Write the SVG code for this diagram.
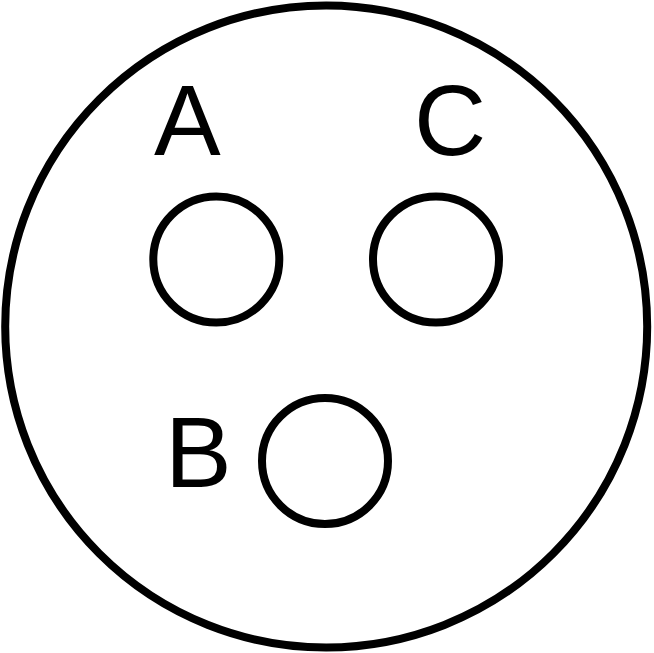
<svg xmlns="http://www.w3.org/2000/svg" width="654" height="653" viewBox="0 0 654 653">
<style>
.ring{fill:none;stroke:#000;stroke-width:8}
.lbl{font-family:"Liberation Sans",Arial,sans-serif;font-size:100px;fill:#000}
</style>
<rect width="654" height="653" fill="#fff"/>
<g id="housing"><circle class="ring" cx="326.2" cy="326.5" r="321"/></g>
<g id="pin-A">
<circle class="ring" cx="216.3" cy="259.5" r="63"/>
<text class="lbl" x="154" y="155">A</text>
</g>
<g id="pin-C">
<circle class="ring" cx="436" cy="259.5" r="63"/>
<text class="lbl" x="414" y="155">C</text>
</g>
<g id="pin-B">
<circle class="ring" cx="325" cy="461" r="63"/>
<text class="lbl" x="165" y="487">B</text>
</g>
<g id="connectors"/>
</svg>
